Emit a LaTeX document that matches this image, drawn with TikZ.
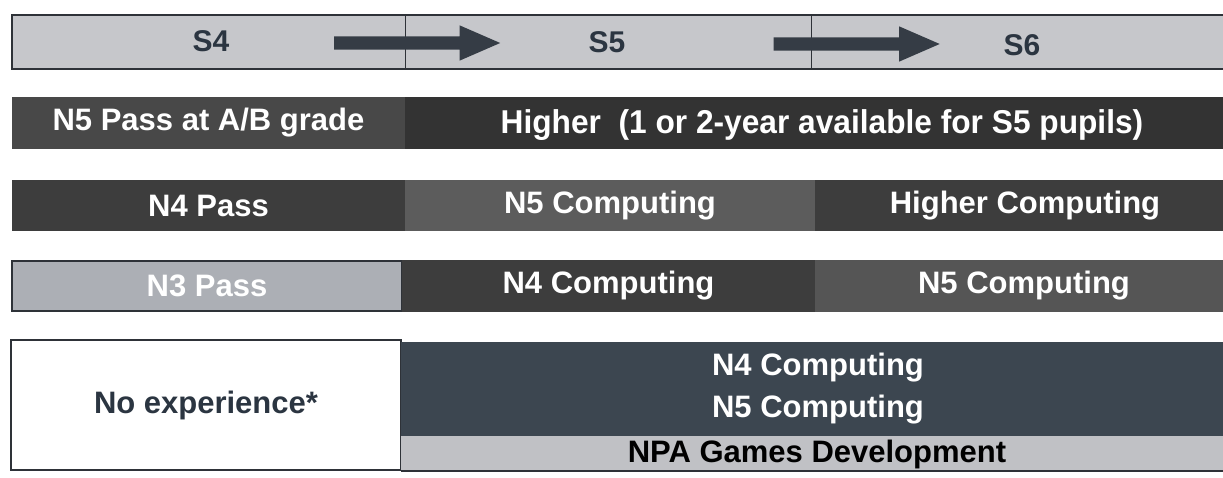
\documentclass[tikz,border=0pt]{standalone}
\usepackage{fontspec}
\setmainfont{Liberation Sans}
\usetikzlibrary{shapes.arrows}
\definecolor{barc}{HTML}{C6C7CB}
\definecolor{edgec}{HTML}{2E3238}
\definecolor{slatetext}{HTML}{2B3541}
\definecolor{arrowc}{HTML}{353C45}
\definecolor{dka}{HTML}{484848}
\definecolor{dkb}{HTML}{333333}
\definecolor{dkc}{HTML}{3D3D3D}
\definecolor{mdc}{HTML}{5C5C5C}
\definecolor{mdd}{HTML}{555555}
\definecolor{lgc}{HTML}{ACAFB5}
\definecolor{slatec}{HTML}{3C4650}
\definecolor{stripc}{HTML}{C0C1C5}
\tikzset{
  cell/.style={rectangle, inner sep=0pt, outer sep=0pt, font=\fontsize{31}{34}\selectfont\bfseries, text=white},
  lightcell/.style={cell, draw=edgec, line width=1.5pt},
  slabel/.style={inner sep=0pt, font=\fontsize{30}{32}\selectfont\bfseries, text=slatetext},
  blockarrow/.style={single arrow, fill=arrowc, inner sep=6.5pt, single arrow head extend=11pt, single arrow tip angle=47, single arrow head indent=0pt, minimum height=166pt}
}
\begin{document}
\begin{tikzpicture}[x=1pt,y=-1pt]
\useasboundingbox[fill=white] (0,0) rectangle (1223,478);
% header bar
\node[lightcell, fill=barc, minimum width=1213pt, minimum height=54pt, anchor=north west] (bar) at (12,15) {};
\draw[edgec, line width=1pt] (405,15) coordinate (d1) -- (405,69) coordinate (d1b);
\draw[edgec, line width=1pt] (811,15) coordinate (d2) -- (811,69) coordinate (d2b);
\node[slabel] (s4) at (211,41) {S4};
\node[slabel] (s5) at (607,42) {S5};
\node[slabel] (s6) at (1022,45) {S6};
\node[blockarrow] (a1) at (409.5,43) {};
\node[blockarrow] (a2) at (849,44) {};
% row 1
\node[cell, fill=dka, minimum width=393pt, minimum height=52pt] (r1a) at (208.5,123) {N5 Pass at A/B grade};
\node[cell, fill=dkb, minimum width=818pt, minimum height=52pt, anchor=west] (r1b) at (r1a.east) {};
\node[cell, font=\fontsize{33}{36}\selectfont\bfseries] (r1bt) at (822,125) {\scalebox{0.96}[1]{Higher\ \ (1 or 2-year available for S5 pupils)}};
% row 2
\node[cell, fill=dkc, minimum width=393pt, minimum height=51pt] (r2a) at (208.5,206) {N4 Pass};
\node[cell, fill=mdc, minimum width=410pt, minimum height=51pt, anchor=west] (r2b) at (r2a.east) {N5 Computing};
\node[cell, fill=dkc, minimum width=408pt, minimum height=51pt, anchor=west] (r2c) at (r2b.east) {\hspace*{12pt}Higher Computing};
% row 3
\node[lightcell, fill=lgc, minimum width=390pt, minimum height=50pt] (r3a) at (207,286) {N3 Pass};
\node[cell, fill=dkc, minimum width=413pt, minimum height=51pt, anchor=west] (r3b) at (r3a.east) {N4 Computing};
\node[cell, fill=mdd, minimum width=410pt, minimum height=51pt, anchor=west] (r3c) at (r3b.east) {\hspace*{8pt}N5 Computing};
% row 4
\node[cell, draw=edgec, line width=1.5pt, fill=white, minimum width=390pt, minimum height=130pt, text=slatetext] (r4a) at (206,405) {No experience*};
\node[cell, fill=slatec, minimum width=826pt, minimum height=94pt, anchor=north west] (r4b) at (401,342) {};
\node[cell] (r4t1) at (818,368) {N4 Computing};
\node[cell] (r4t2) at (818,410) {N5 Computing};
\node[cell, fill=stripc, minimum width=826pt, minimum height=35pt, anchor=north west, text=black] (r4c) at (401,436) {};
\node[cell, text=black] (r4ct) at (817,454) {NPA Games Development};
\draw[edgec, line width=1.5pt] (r4c.south west) -- (r4c.south east);
\end{tikzpicture}
\end{document}
